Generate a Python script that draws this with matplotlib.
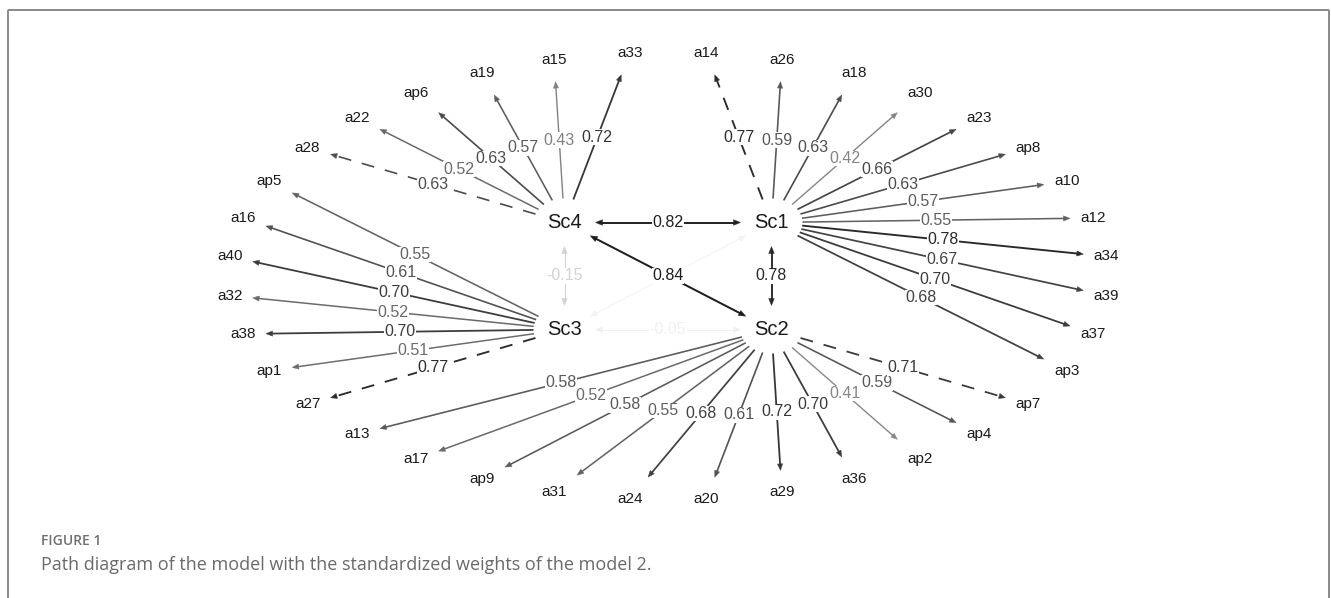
import numpy as np
import matplotlib
matplotlib.use("Agg")
import matplotlib.pyplot as plt
from matplotlib.patches import Polygon

# ---------------- data ----------------
factors = ["Sc1", "Sc2", "Sc3", "Sc4"]

sc1_items = ["a14", "a26", "a18", "a30", "a23", "ap8", "a10", "a12", "a34", "a39", "a37", "ap3"]
sc1_loadings = [0.77, 0.59, 0.63, 0.42, 0.66, 0.63, 0.57, 0.55, 0.78, 0.67, 0.70, 0.68]

sc2_items = ["ap7", "ap4", "ap2", "a36", "a29", "a20", "a24", "a31", "ap9", "a17", "a13"]
sc2_loadings = [0.71, 0.59, 0.41, 0.70, 0.72, 0.61, 0.68, 0.55, 0.58, 0.52, 0.58]

sc3_items = ["a27", "ap1", "a38", "a32", "a40", "a16", "ap5"]
sc3_loadings = [0.77, 0.51, 0.70, 0.52, 0.70, 0.61, 0.55]

sc4_items = ["a28", "a22", "ap6", "a19", "a15", "a33"]
sc4_loadings = [0.63, 0.52, 0.63, 0.57, 0.43, 0.72]

fixed_items = ["a14", "ap7", "a27", "a28"]   # fixed loadings (dashed)

cov_from = ["Sc3", "Sc3", "Sc4", "Sc1", "Sc4", "Sc4"]
cov_to = ["Sc1", "Sc2", "Sc3", "Sc2", "Sc1", "Sc2"]
cov_values = [0.04, -0.05, -0.15, 0.78, 0.82, 0.84]

caption_title = "FIGURE 1"
caption_text = "Path diagram of the model with the standardized weights of the model 2."

# ---------------- layout ----------------
W, H = 1331, 598
fig = plt.figure(figsize=(W / 100, H / 100), dpi=100)
ax = fig.add_axes([0, 0, 1, 1])
ax.set_xlim(0, W)
ax.set_ylim(H, 0)
ax.axis("off")

CX, CY = 668.0, 276.0
RX, RY = 440.0, 224.0          # ellipse of indicators
FDX, FDY = 103.5, 53.5          # factor offsets
F_RX, F_RY = 31.0, 24.0         # latent node (invisible) ellipse
I_HW, I_HH = 23.0, 22.0         # manifest node (invisible) box
PT = 0.72                       # px -> pt

fpos = {
    "Sc1": np.array([CX + FDX, CY - FDY]),
    "Sc2": np.array([CX + FDX, CY + FDY]),
    "Sc3": np.array([CX - FDX, CY + FDY]),
    "Sc4": np.array([CX - FDX, CY - FDY]),
}

groups = [("Sc1", sc1_items, sc1_loadings), ("Sc2", sc2_items, sc2_loadings),
          ("Sc3", sc3_items, sc3_loadings), ("Sc4", sc4_items, sc4_loadings)]
all_items = [it for _, items, _ in groups for it in items]
n_items = len(all_items)
step = 360.0 / n_items
ipos = {}
for k, it in enumerate(all_items):
    th = np.deg2rad(step / 2 + k * step)
    ipos[it] = np.array([CX + RX * np.sin(th), CY - RY * np.cos(th)])


def shade(w):
    g = min(1.0, max(0.0, 1.0 - abs(w))) ** 1.2
    return (g, g, g)


def width_px(w):
    return 0.8 + 1.4 * abs(w)


def ell_exit(c, target, rx, ry):
    d = target - c
    t = 1.0 / np.sqrt((d[0] / rx) ** 2 + (d[1] / ry) ** 2)
    return c + d * t


def box_exit(c, target, hw, hh):
    d = target - c
    t = 1.0 / max(abs(d[0]) / hw, abs(d[1]) / hh)
    return c + d * t


def head(tip, u, color, L, hw, z):
    base = tip - u * L
    perp = np.array([-u[1], u[0]])
    poly = Polygon([tip, base + perp * hw, base - perp * hw], closed=True,
                   fc=color, ec=color, lw=0.3, zorder=z)
    ax.add_patch(poly)


LFONT = dict(family=["Liberation Sans", "DejaVu Sans"])
labels = []   # (abs weight, x, y, text, color)

# loadings
for f, items, loads in groups:
    for it, w in zip(items, loads):
        c = fpos[f]
        p = ipos[it]
        s = ell_exit(c, p, F_RX, F_RY)
        e = box_exit(p, c, I_HW, I_HH)
        u = (e - s) / np.linalg.norm(e - s)
        col = shade(w)
        lwp = width_px(w)
        L, hw = 6.5, 2.6
        ln, = ax.plot([s[0], e[0] - u[0] * L * 0.6], [s[1], e[1] - u[1] * L * 0.6],
                      color=col, lw=lwp * PT, solid_capstyle="butt", zorder=2)
        if it in fixed_items:
            ln.set_linestyle((0, (13 / lwp, 11 / lwp)))
        head(e, u, col, L, hw, 2)
        m = (s + e) / 2
        labels.append((abs(w), m[0], m[1], f"{w:.2f}", col))

# covariances
for a, b, w in zip(cov_from, cov_to, cov_values):
    ca, cb = fpos[a], fpos[b]
    s = ell_exit(ca, cb, F_RX, F_RY)
    e = ell_exit(cb, ca, F_RX, F_RY)
    u = (e - s) / np.linalg.norm(e - s)
    col = shade(w)
    lwp = width_px(w)
    L, hw = 7.0, 2.8
    ax.plot([s[0] + u[0] * L * 0.6, e[0] - u[0] * L * 0.6],
            [s[1] + u[1] * L * 0.6, e[1] - u[1] * L * 0.6],
            color=col, lw=lwp * PT, solid_capstyle="butt", zorder=1)
    head(e, u, col, L, hw, 1)
    head(s, -u, col, L, hw, 1)
    m = (s + e) / 2
    labels.append((abs(w), m[0], m[1], f"{w:.2f}", col))

labels.sort(key=lambda r: r[0])
for k, (aw, x, y, t, col) in enumerate(labels):
    ax.text(x, y, t, ha="center", va="center", fontsize=11.5, color=col,
            zorder=5 + k * 0.01,
            bbox=dict(boxstyle="square,pad=0.02", fc="white", ec="none"), **LFONT)

# node labels
for f in factors:
    ax.text(fpos[f][0], fpos[f][1], f, ha="center", va="center", fontsize=14.5,
            color="#1a1a1a", zorder=10, **LFONT)
for it in all_items:
    ax.text(ipos[it][0], ipos[it][1], it, ha="center", va="center", fontsize=11,
            color="#1a1a1a", zorder=10, **LFONT)

# frame
fc = "#8c8c8c"
ax.plot([7.5, 1329], [9.5, 9.5], color=fc, lw=2 * PT, solid_capstyle="butt", zorder=0)
ax.plot([7.5, 7.5], [9.5, H], color=fc, lw=2 * PT, solid_capstyle="butt", zorder=0)
ax.plot([1329, 1329], [9.5, H], color=fc, lw=2 * PT, solid_capstyle="butt", zorder=0)

# caption
ax.text(41, 541, caption_title, ha="left", va="center", fontsize=10, color="#707070",
        fontweight="semibold", family=["Open Sans", "DejaVu Sans"])
ax.text(41, 565, caption_text, ha="left", va="center", fontsize=13, color="#6a6a6a",
        family=["Open Sans", "DejaVu Sans"])

fig.savefig("out.png", dpi=100)
